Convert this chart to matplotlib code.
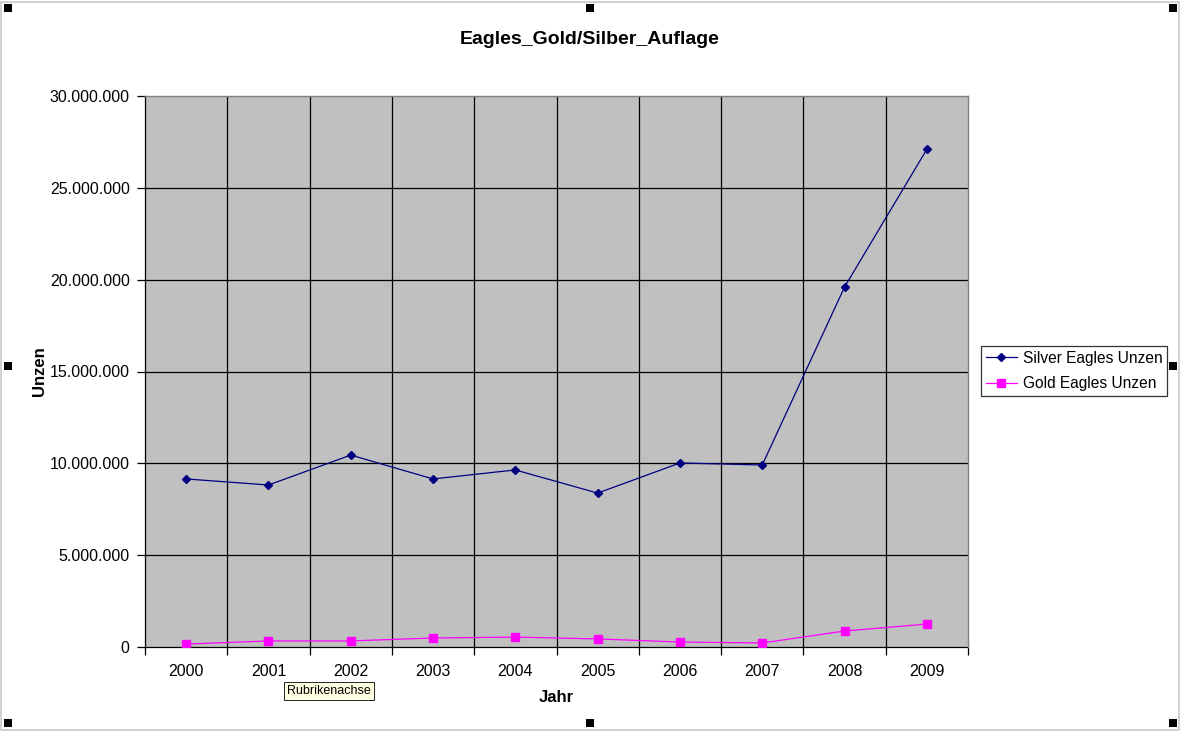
import matplotlib
matplotlib.use("Agg")
import matplotlib.pyplot as plt
from matplotlib.patches import Rectangle
from matplotlib.ticker import FuncFormatter, FixedLocator

plt.rcParams['font.family'] = ['Liberation Sans', 'DejaVu Sans']

years = ['2000', '2001', '2002', '2003', '2004', '2005', '2006', '2007', '2008', '2009']
silver = [9150000, 8820000, 10450000, 9150000, 9640000, 8380000, 10020000, 9910000, 19600000, 27100000]
gold = [160000, 330000, 330000, 490000, 540000, 440000, 270000, 220000, 870000, 1250000]
y_ticks = [0, 5000000, 10000000, 15000000, 20000000, 25000000, 30000000]

W, H = 1181, 731
fig = plt.figure(figsize=(W / 100, H / 100), dpi=100)
fig.patch.set_facecolor('white')

ax = fig.add_axes([145 / W, 1 - 647 / H, (968 - 145) / W, (647 - 96) / H])
ax.set_facecolor('#c0c0c0')

x = list(range(len(years)))
ax.plot(x, silver, color='#000080', marker='D', markersize=4.5, linewidth=0.9,
        label='Silver Eagles Unzen', zorder=3)
ax.plot(x, gold, color='#ff00ff', marker='s', markersize=6, linewidth=0.9,
        label='Gold Eagles Unzen', zorder=3)

ax.set_xlim(-0.5, len(years) - 0.5)
ax.set_ylim(0, 30000000)
ax.set_yticks(y_ticks)
ax.yaxis.set_major_formatter(FuncFormatter(lambda v, p: f"{int(v):,}".replace(',', '.')))
for t in y_ticks[1:-1]:
    ax.axhline(t, color='black', linewidth=0.9, zorder=1)

# category axis: labels at centers, ticks at boundaries
ax.set_xticks(x)
ax.set_xticklabels(years)
ax.tick_params(axis='x', which='major', length=0, pad=12, labelsize=11.5)
bounds = [i - 0.5 for i in range(len(years) + 1)]
ax.xaxis.set_minor_locator(FixedLocator(bounds))
ax.tick_params(axis='x', which='minor', length=6, width=0.9, direction='out')
for b in bounds[1:-1]:
    ax.axvline(b, color='black', linewidth=0.9, zorder=1)
ax.tick_params(axis='y', length=6, width=0.9, direction='out', labelsize=11.5, pad=5)

for s in ['top', 'right']:
    ax.spines[s].set_color('#808080')
    ax.spines[s].set_linewidth(1.0)
for s in ['left', 'bottom']:
    ax.spines[s].set_linewidth(0.9)
    ax.spines[s].set_zorder(2)

ax.set_xlabel('Jahr', fontsize=12, fontweight='bold', labelpad=8)
ax.set_ylabel('Unzen', fontsize=12, fontweight='bold', labelpad=2)

fig.text(590 / W, 1 - 39 / H, 'Eagles_Gold/Silber_Auflage', ha='center', va='center',
         fontsize=14, fontweight='bold')

leg = fig.legend(loc='center left', bbox_to_anchor=(981 / W, 1 - 371 / H),
                 frameon=True, fancybox=False, fontsize=11.2, borderpad=0.3,
                 handlelength=2.0, handletextpad=0.4, labelspacing=0.66,
                 borderaxespad=0)
leg.get_frame().set_edgecolor('black')
leg.get_frame().set_linewidth(0.9)

# tooltip
fig.text(287 / W, 1 - 691 / H, 'Rubrikenachse', ha='left', va='center', fontsize=9,
         bbox=dict(boxstyle='square,pad=0.25', facecolor='#ffffe1', edgecolor='black', linewidth=0.6))

# selection handles and frame
fig.add_artist(Rectangle((1 / W, 1 / H), (W - 3) / W, (H - 3) / H, transform=fig.transFigure,
                         fill=False, edgecolor='#c8c8c8', linewidth=1.2))
for hx, hy in [(8, 8), (590, 8), (1173, 8), (8, 366), (1173, 366), (8, 723), (590, 723), (1173, 723)]:
    fig.add_artist(Rectangle(((hx - 4) / W, 1 - (hy + 4) / H), 8 / W, 8 / H,
                             transform=fig.transFigure, facecolor='black', edgecolor='none'))

fig.savefig('out.png', dpi=100)
